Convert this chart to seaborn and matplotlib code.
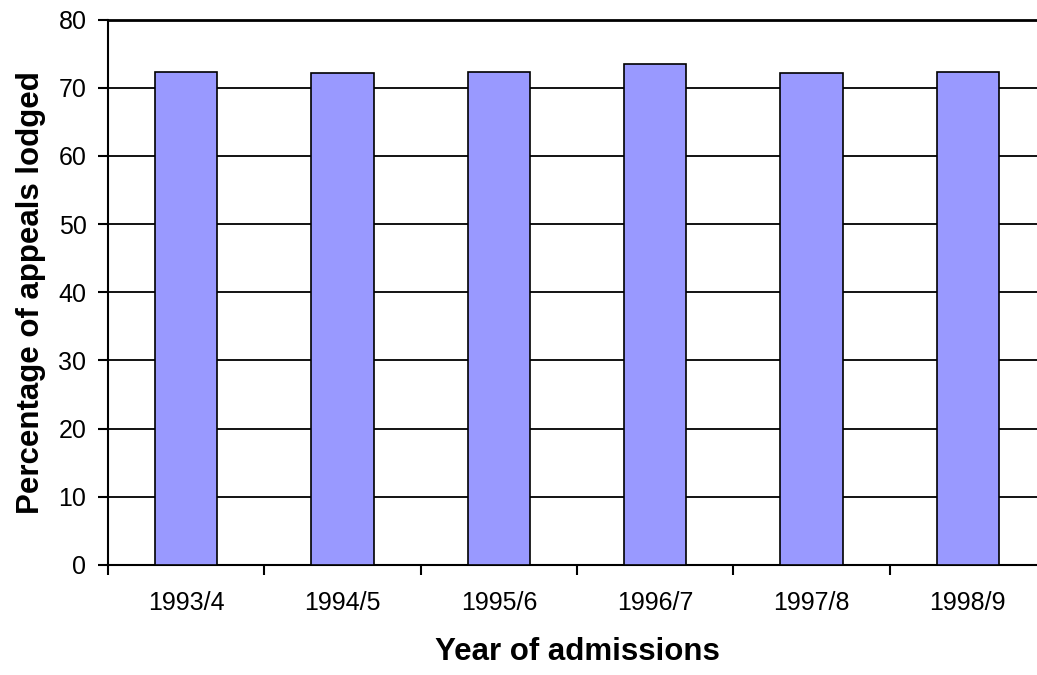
import matplotlib
matplotlib.use("Agg")
import matplotlib.pyplot as plt
import seaborn as sns
import pandas as pd

years = ["1993/4", "1994/5", "1995/6", "1996/7", "1997/8", "1998/9"]
appeal_pct = [72.3, 72.1, 72.3, 73.5, 72.1, 72.3]
y_ticks = [0, 10, 20, 30, 40, 50, 60, 70, 80]

sns.set_style("white")
plt.rcParams["font.family"] = ["Liberation Sans", "DejaVu Sans"]
plt.rcParams["text.color"] = "black"
plt.rcParams["axes.labelcolor"] = "black"
plt.rcParams["xtick.color"] = "black"
plt.rcParams["ytick.color"] = "black"

df = pd.DataFrame({"year": years, "pct": appeal_pct})

W, H = 1037, 675
fig = plt.figure(figsize=(W / 100, H / 100), dpi=100)
# plot area runs slightly past the right edge of the canvas
left, right, top, bottom = 108, 1046, 19.5, 565
ax = fig.add_axes([left / W, 1 - bottom / H, (right - left) / W, (bottom - top) / H])

sns.barplot(data=df, x="year", y="pct", color="#9999FF", width=0.4,
            edgecolor="black", linewidth=1.2, saturation=1, ax=ax, zorder=3)

ax.set_ylim(0, 80)
ax.set_xlim(-0.5, len(years) - 0.5)
ax.set_yticks(y_ticks)
ax.yaxis.grid(True, color="black", linewidth=1.3, zorder=0)
ax.set_axisbelow(True)

ax.spines["right"].set_visible(False)
ax.spines["top"].set_visible(True)
ax.spines["top"].set_linewidth(2)
ax.spines["left"].set_linewidth(1.5)
ax.spines["bottom"].set_linewidth(1.5)
for side in ["top", "left", "bottom"]:
    ax.spines[side].set_color("black")

# category ticks sit between the bars
ax.set_xticks([i - 0.5 for i in range(len(years) + 1)], minor=False)
ax.set_xticklabels([])
ax.set_xticks(range(len(years)), minor=True)
ax.set_xticklabels(years, minor=True, fontsize=18)
ax.tick_params(axis="x", which="major", direction="out", length=7, width=1.5,
               color="black", bottom=True)
ax.tick_params(axis="x", which="minor", length=0, pad=19, labelcolor="black")
ax.tick_params(axis="y", direction="out", length=7, width=1.5, color="black",
               left=True, labelsize=18, pad=8.5, labelcolor="black")

ax.set_xlabel("Year of admissions", fontsize=22.5, fontweight="bold")
ax.set_ylabel("Percentage of appeals lodged", fontsize=22.5, fontweight="bold")
ax.xaxis.set_label_coords(0.5, (bottom - 637) / (bottom - top))
ax.yaxis.set_label_coords((46 - left) / (right - left), 0.5)

fig.savefig("out.png", dpi=100)
